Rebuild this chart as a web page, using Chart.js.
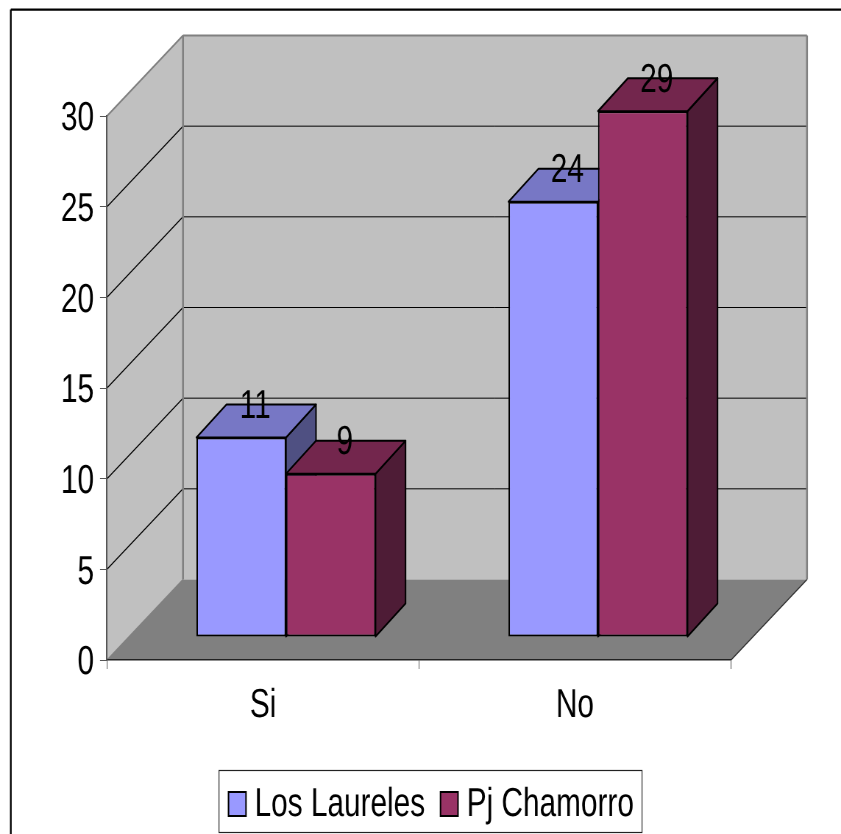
<!DOCTYPE html>
<html><head><meta charset="utf-8">
<style>
html,body{margin:0;padding:0;background:#fff;width:841px;height:834px;overflow:hidden}
canvas{display:block;transform-origin:0 0;transform:scaleX(0.73578)}
</style>
<script src="https://cdn.jsdelivr.net/npm/chart.js@4"></script>
</head><body>
<canvas id="c" width="1143" height="834"></canvas>
<script>
const categories = ["Si", "No"];
const losLaureles = [11, 24];
const pjChamorro = [9, 29];
const seriesNames = ["Los Laureles", "Pj Chamorro"];
const yTicks = [0, 5, 10, 15, 20, 25, 30];

const faceColors = ["#9999FF", "#993366"];
const topColors = ["#7777C5", "#73264D"];
const sideColors = ["#4F5082", "#4E1C36"];

const k = 841 / 1143;
const X = p => p / k;
const FONT = '40.5px "Liberation Sans", Arial, sans-serif';
const WALL = {dx: X(76), dy: -80.5};
const PLANE = {dx: X(23), dy: -23};
const DEPTH = {dx: X(30), dy: -33};

function poly(ctx, pts, fill, stroke, lw) {
  ctx.beginPath();
  pts.forEach((p, i) => i ? ctx.lineTo(p[0], p[1]) : ctx.moveTo(p[0], p[1]));
  ctx.closePath();
  if (fill) { ctx.fillStyle = fill; ctx.fill(); }
  if (stroke) { ctx.strokeStyle = stroke; ctx.lineWidth = lw; ctx.stroke(); }
}
function line(ctx, x1, y1, x2, y2, color, lw) {
  ctx.beginPath(); ctx.moveTo(x1, y1); ctx.lineTo(x2, y2);
  ctx.strokeStyle = color; ctx.lineWidth = lw; ctx.stroke();
}

const room = {
  id: "room",
  beforeDraw(chart) {
    const {ctx, chartArea: a, scales: {y}} = chart;
    ctx.textRendering = "geometricPrecision";
    const L = a.left, R = a.right, T = y.getPixelForValue(30), B = y.getPixelForValue(0);
    const dx = WALL.dx, dy = WALL.dy;
    ctx.save();
    ctx.fillStyle = "#fff"; ctx.fillRect(0, 0, chart.width, chart.height);
    // outer frame
    line(ctx, X(10.8), 9.6, chart.width, 9.6, "#000", 2.4);
    line(ctx, X(10.8), 9.6, X(10.8), chart.height, "#000", 2.4);
    // walls
    poly(ctx, [[L, T], [L + dx, T + dy], [L + dx, B + dy], [L, B]], "#C0C0C0");
    poly(ctx, [[L + dx, T + dy], [R + dx, T + dy], [R + dx, B + dy], [L + dx, B + dy]], "#C0C0C0");
    // floor
    poly(ctx, [[L, B], [L + dx, B + dy], [R + dx, B + dy], [R, B]], "#808080");
    // grid
    yTicks.forEach(v => {
      if (v === 0 || v === 30) return;
      const p = y.getPixelForValue(v);
      line(ctx, L, p, L + dx, p + dy, "#000", 1.3);
      line(ctx, L + dx, p + dy, R + dx, p + dy, "#000", 1);
    });
    // wall edges
    line(ctx, L, T, L + dx, T + dy, "#808080", 2);
    line(ctx, L + dx, T + dy, R + dx, T + dy, "#808080", 2);
    line(ctx, L + dx, T + dy, L + dx, B + dy, "#808080", 2.6);
    line(ctx, R + dx, T + dy, R + dx, B + dy, "#808080", 2.6);
    line(ctx, L, B, L + dx, B + dy, "#808080", 1.5);
    line(ctx, R, B, R + dx, B + dy, "#333", 1.5);
    ctx.restore();
  },
  beforeDatasetsDraw(chart) {
    // sides and tops of every bar, series by series, under the front faces
    const ctx = chart.ctx;
    ctx.save();
    ctx.translate(PLANE.dx, PLANE.dy);
    ctx.lineJoin = "round";
    categories.forEach((c, j) => {
      chart.data.datasets.forEach((ds, i) => {
        const b = chart.getDatasetMeta(i).data[j];
        const l = b.x - b.width / 2, r = b.x + b.width / 2, t = b.y, m = b.base;
        const ax = DEPTH.dx, ay = DEPTH.dy;
        poly(ctx, [[r, t], [r + ax, t + ay], [r + ax, m + ay], [r, m]], sideColors[i], "#000", 2);
        poly(ctx, [[l, t], [l + ax, t + ay], [r + ax, t + ay], [r, t]], topColors[i], "#000", 2);
      });
    });
    ctx.restore();
  },
  beforeDatasetDraw(chart) {
    chart.ctx.save();
    chart.ctx.translate(PLANE.dx, PLANE.dy);
  },
  afterDatasetDraw(chart) { chart.ctx.restore(); },
  afterDatasetsDraw(chart) {
    const ctx = chart.ctx;
    ctx.save();
    ctx.font = FONT; ctx.fillStyle = "#000";
    ctx.textAlign = "center"; ctx.textBaseline = "alphabetic";
    chart.data.datasets.forEach((ds, i) => {
      chart.getDatasetMeta(i).data.forEach((b, j) => {
        ctx.fillText(String(ds.data[j]),
          b.x + PLANE.dx + DEPTH.dx / 2 - X(1),
          b.y + PLANE.dy + DEPTH.dy / 2 - 3);
      });
    });
    ctx.restore();
  },
  afterDraw(chart) {
    const ctx = chart.ctx;
    ctx.save();
    // legend
    ctx.fillStyle = "#fff";
    ctx.fillRect(X(219), 770.5, X(423), 62);
    ctx.strokeStyle = "#222"; ctx.lineWidth = 1.2;
    ctx.strokeRect(X(219), 770.5, X(423), 62);
    const swatchX = [228.5, 440.5], textX = [254.5, 466.7];
    ctx.font = FONT; ctx.textAlign = "left"; ctx.textBaseline = "alphabetic";
    seriesNames.forEach((name, i) => {
      ctx.fillStyle = faceColors[i];
      ctx.fillRect(X(swatchX[i]), 792, X(17.5), 24);
      ctx.strokeStyle = "#000"; ctx.lineWidth = 2;
      ctx.strokeRect(X(swatchX[i]), 792, X(17.5), 24);
      ctx.fillStyle = "#000";
      ctx.fillText(name, X(textX[i]), 816);
    });
    ctx.restore();
  }
};

new Chart(document.getElementById("c"), {
  type: "bar",
  data: {
    labels: categories,
    datasets: [
      {label: seriesNames[0], data: losLaureles, backgroundColor: faceColors[0]},
      {label: seriesNames[1], data: pjChamorro, backgroundColor: faceColors[1]}
    ].map(d => Object.assign(d, {
      borderColor: "#000", borderWidth: 2, borderSkipped: false,
      categoryPercentage: 0.574, barPercentage: 1, clip: false
    }))
  },
  options: {
    responsive: false,
    devicePixelRatio: 1,
    animation: false,
    layout: {padding: {left: 0, right: X(841 - 731), top: 116, bottom: 0}},
    plugins: {legend: {display: false}, tooltip: {enabled: false}},
    scales: {
      x: {
        afterFit: s => { s.height = 174; },
        grid: {drawOnChartArea: false, drawTicks: true, tickLength: 9, color: "#555", offset: true},
        border: {color: "#222", width: 1.5},
        ticks: {color: "#000", font: {family: '"Liberation Sans", Arial, sans-serif', size: 40.5},
                maxRotation: 0, autoSkip: false, padding: 13}
      },
      y: {
        min: 0, max: 30,
        afterFit: s => { s.width = X(107); },
        afterBuildTicks: s => { s.ticks = yTicks.map(v => ({value: v})); },
        grid: {drawOnChartArea: false, drawTicks: true, tickLength: X(7), color: "#555"},
        border: {color: "#555", width: 2},
        ticks: {color: "#000", font: {family: '"Liberation Sans", Arial, sans-serif', size: 40.5}, padding: X(6), labelOffset: 3}
      }
    }
  },
  plugins: [room]
});
</script>
</body></html>
